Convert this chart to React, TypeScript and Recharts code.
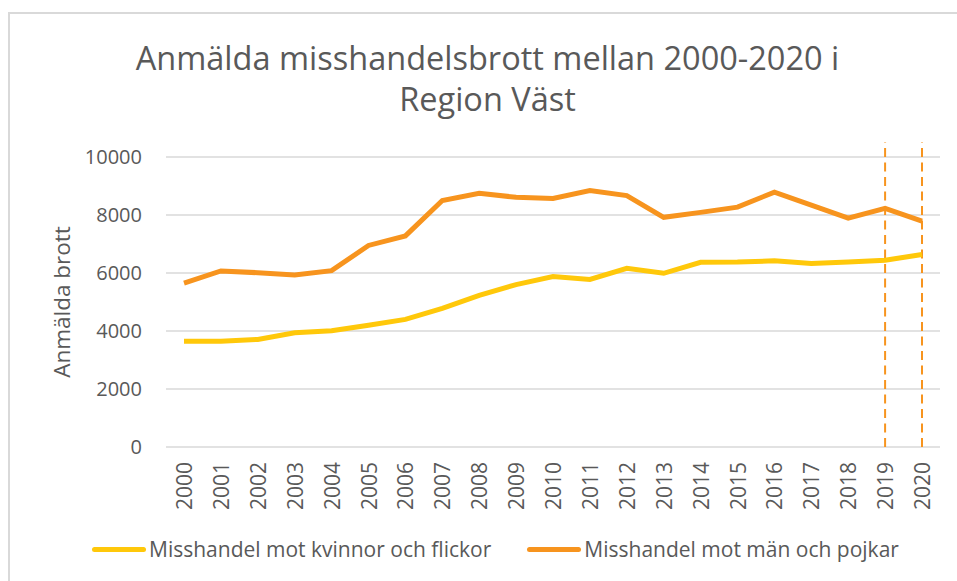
import React from "react";
import { CartesianGrid, Line, LineChart, ReferenceLine, XAxis, YAxis } from "recharts";

const years = [
  "2000", "2001", "2002", "2003", "2004", "2005", "2006", "2007", "2008", "2009", "2010",
  "2011", "2012", "2013", "2014", "2015", "2016", "2017", "2018", "2019", "2020",
];
const women = [
  3650, 3650, 3710, 3940, 4010, 4200, 4400, 4780, 5230, 5600, 5880,
  5780, 6160, 5990, 6370, 6380, 6420, 6330, 6380, 6440, 6640,
];
const men = [
  5650, 6070, 6010, 5930, 6080, 6950, 7280, 8500, 8750, 8610, 8570,
  8840, 8670, 7920, 8090, 8270, 8790, 8340, 7890, 8230, 7790,
];
const yTicks = [0, 2000, 4000, 6000, 8000, 10000];
const markedYears = ["2019", "2020"];

const title = ["Anmälda misshandelsbrott mellan 2000-2020 i", "Region Väst"];
const womenLabel = "Misshandel mot kvinnor och flickor";
const menLabel = "Misshandel mot män och pojkar";
const yLabel = "Anmälda brott";

const data = years.map((year, i) => ({ year, women: women[i], men: men[i] }));

const FONT = "'Open Sans', 'Liberation Sans', sans-serif";
const TEXT = "#595959";
const YELLOW = "#FFC80A";
const ORANGE = "#F7941E";

function YearTick({ x, y, payload }: any) {
  return (
    <text
      x={x}
      y={y}
      transform={`rotate(-90 ${x} ${y})`}
      textAnchor="end"
      dominantBaseline="central"
      fill={TEXT}
      fontSize={21}
      fontFamily={FONT}
    >
      {payload.value}
    </text>
  );
}

function YTitle({ viewBox }: any) {
  const x = 61;
  const y = viewBox.y + viewBox.height / 2;
  return (
    <text
      x={x}
      y={y}
      transform={`rotate(-90 ${x} ${y})`}
      textAnchor="middle"
      dominantBaseline="central"
      fill={TEXT}
      fontSize={22.5}
      fontFamily={FONT}
    >
      {yLabel}
    </text>
  );
}

function LegendItem({ color, label }: { color: string; label: string }) {
  return (
    <div style={{ display: "flex", alignItems: "center" }}>
      <div style={{ width: 54, height: 5, borderRadius: 3, background: color, marginRight: 3 }} />
      <span>{label}</span>
    </div>
  );
}

export default function App() {
  return (
    <div
      style={{
        position: "absolute",
        left: 0,
        top: 0,
        width: 957,
        height: 581,
        overflow: "hidden",
        background: "#fff",
        fontFamily: FONT,
        color: TEXT,
      }}
    >
      <div
        style={{
          position: "absolute",
          left: 8,
          top: 12,
          width: 1000,
          height: 1000,
          border: "2px solid #d9d9d9",
        }}
      />
      <div
        style={{
          position: "absolute",
          left: 0,
          top: 37,
          width: 975,
          textAlign: "center",
          fontSize: 32.5,
          lineHeight: "41px",
        }}
      >
        {title.map((t) => (
          <div key={t}>{t}</div>
        ))}
      </div>
      <div style={{ position: "absolute", left: 0, top: 0 }}>
        <LineChart
          width={957}
          height={581}
          data={data}
          margin={{ top: 157, right: 17, left: 0, bottom: 0 }}
        >
          <CartesianGrid vertical={false} stroke="#d9d9d9" strokeWidth={1.5} />
          <XAxis
            dataKey="year"
            axisLine={false}
            tickLine={false}
            height={134}
            interval={0}
            tickMargin={9}
            padding={{ left: 18, right: 18 }}
            tick={<YearTick />}
          />
          <YAxis
            width={166}
            domain={[0, 10000]}
            ticks={yTicks}
            axisLine={false}
            tickLine={false}
            tickMargin={18}
            tick={{ fill: TEXT, fontSize: 20, fontFamily: FONT }}
            label={<YTitle />}
          />
          {markedYears.map((yr) => (
            <ReferenceLine
              key={yr}
              segment={[
                { x: yr, y: 0 },
                { x: yr, y: 10520 },
              ]}
              ifOverflow="visible"
              stroke={ORANGE}
              strokeWidth={2}
              strokeDasharray="9 5.5"
            />
          ))}
          <Line
            dataKey="women"
            stroke={YELLOW}
            strokeWidth={5}
            dot={false}
            isAnimationActive={false}
          />
          <Line
            dataKey="men"
            stroke={ORANGE}
            strokeWidth={5}
            dot={false}
            isAnimationActive={false}
          />
        </LineChart>
      </div>
      <div
        style={{
          position: "absolute",
          left: 92,
          top: 535,
          display: "flex",
          gap: 36,
          fontSize: 21,
          lineHeight: "28px",
        }}
      >
        <LegendItem color={YELLOW} label={womenLabel} />
        <LegendItem color={ORANGE} label={menLabel} />
      </div>
    </div>
  );
}
